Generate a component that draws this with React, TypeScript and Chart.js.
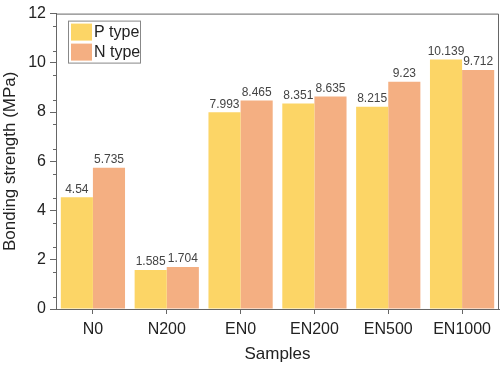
import React, { useEffect, useRef } from "react";
import { Chart, registerables } from "chart.js";

Chart.register(...registerables);

const categories = ["N0", "N200", "EN0", "EN200", "EN500", "EN1000"];
const pType = [4.54, 1.585, 7.993, 8.351, 8.215, 10.139];
const nType = [5.735, 1.704, 8.465, 8.635, 9.23, 9.712];
const pLabels = ["4.54", "1.585", "7.993", "8.351", "8.215", "10.139"];
const nLabels = ["5.735", "1.704", "8.465", "8.635", "9.23", "9.712"];
const seriesNames = ["P type", "N type"];
const colors = ["#FCD566", "#F4AF82"];
const axisColor = "#666666";
const FONT = "'Liberation Sans', Arial, sans-serif";

const decorPlugin = {
  id: "decor",
  afterDraw(chart: any) {
    const ctx = chart.ctx;
    const { left, right, top, bottom } = chart.chartArea;
    const y = chart.scales.y;
    ctx.save();
    ctx.strokeStyle = axisColor;
    ctx.lineWidth = 1;
    ctx.beginPath();
    ctx.moveTo(left, top + 0.5);
    ctx.lineTo(right - 0.5, top + 0.5);
    ctx.lineTo(right - 0.5, bottom);
    ctx.stroke();
    ctx.beginPath();
    for (let v = 0.5; v < 12; v += 1) {
      const py = Math.round(y.getPixelForValue(v)) + 0.5;
      ctx.moveTo(left - 3, py);
      ctx.lineTo(left, py);
    }
    ctx.stroke();
    ctx.fillStyle = "#444444";
    ctx.font = `12px ${FONT}`;
    ctx.textAlign = "center";
    ctx.textBaseline = "bottom";
    const labelSets = [pLabels, nLabels];
    chart.data.datasets.forEach((ds: any, di: number) => {
      const meta = chart.getDatasetMeta(di);
      meta.data.forEach((bar: any, i: number) => {
        ctx.fillText(labelSets[di][i], bar.x, bar.y - 2);
      });
    });
    const lx = left + 12;
    const ly = top + 7;
    ctx.strokeStyle = "#888888";
    ctx.strokeRect(lx + 0.5, ly + 0.5, 72, 42);
    ctx.font = `16px ${FONT}`;
    ctx.textAlign = "left";
    ctx.textBaseline = "middle";
    seriesNames.forEach((name, i) => {
      const sy = ly + 3 + i * 20;
      ctx.fillStyle = colors[i];
      ctx.fillRect(lx + 3, sy, 21, 17);
      ctx.fillStyle = "#222222";
      ctx.fillText(name, lx + 26, sy + 9);
    });
    ctx.restore();
  },
};

export default function App() {
  const ref = useRef<HTMLCanvasElement>(null);
  useEffect(() => {
    if (!ref.current) return;
    const chart = new Chart(ref.current, {
      type: "bar",
      data: {
        labels: categories,
        datasets: [
          { label: seriesNames[0], data: pType, backgroundColor: colors[0] },
          { label: seriesNames[1], data: nType, backgroundColor: colors[1] },
        ],
      },
      options: {
        animation: false,
        responsive: false,
        maintainAspectRatio: false,
        layout: { padding: { top: 8, right: 1, left: 0, bottom: 0 } },
        datasets: { bar: { categoryPercentage: 0.87, barPercentage: 1 } },
        plugins: { legend: { display: false }, tooltip: { enabled: false } },
        scales: {
          x: {
            afterFit: (s: any) => { s.height = 57; },
            grid: { offset: false, drawOnChartArea: false, tickLength: 5, color: axisColor },
            border: { color: axisColor },
            ticks: { color: "#222222", font: { size: 16, family: FONT }, padding: 6, maxRotation: 0 },
            title: { display: true, text: "Samples", color: "#222222", font: { size: 17, family: FONT }, padding: { top: 0, bottom: 1 } },
          },
          y: {
            min: 0,
            max: 12,
            afterFit: (s: any) => { s.width = 56; },
            grid: { drawOnChartArea: false, tickLength: 6, color: axisColor },
            border: { color: axisColor },
            ticks: { stepSize: 2, color: "#222222", font: { size: 16, family: FONT }, padding: 4 },
            title: { display: true, text: "Bonding strength (MPa)", color: "#222222", font: { size: 17, family: FONT }, padding: { top: 0, bottom: 0 } },
          },
        },
      },
      plugins: [decorPlugin],
    });
    return () => chart.destroy();
  }, []);
  return (
    <div style={{ position: "fixed", left: 0, top: 0, width: 500, height: 366, background: "#fff" }}>
      <canvas ref={ref} width={500} height={366} style={{ width: 500, height: 366 }} />
    </div>
  );
}
